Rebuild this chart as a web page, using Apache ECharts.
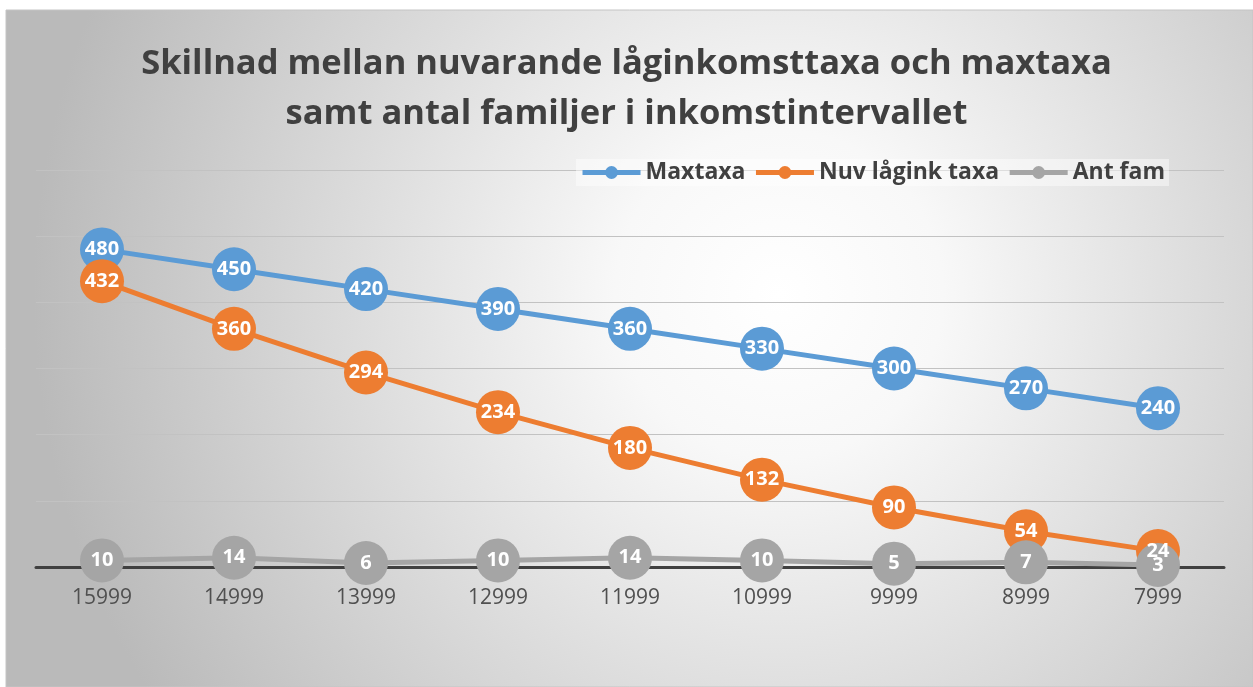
<!DOCTYPE html>
<html>
<head>
<meta charset="utf-8">
<script src="https://cdn.jsdelivr.net/npm/echarts@6/dist/echarts.min.js"></script>
<style>
  html, body { margin: 0; padding: 0; background: #ffffff; }
  #chart { width: 1253px; height: 687px; }
</style>
</head>
<body>
<div id="chart"></div>
<script>
  // data
  const incomeLevels = ['15999', '14999', '13999', '12999', '11999', '10999', '9999', '8999', '7999'];
  const maxtaxa = [480, 450, 420, 390, 360, 330, 300, 270, 240];
  const nuvLagink = [432, 360, 294, 234, 180, 132, 90, 54, 24];
  const antFam = [10, 14, 6, 10, 14, 10, 5, 7, 3];

  const seriesNames = ['Maxtaxa', 'Nuv lågink taxa', 'Ant fam'];
  const seriesColors = ['#5b9bd5', '#ed7d31', '#a5a5a5'];

  const fontFamily = '"Open Sans", "Noto Sans", sans-serif';

  function lineSeries(name, data, color) {
    return {
      name: name,
      type: 'line',
      data: data,
      symbol: 'circle',
      symbolSize: 44,
      lineStyle: { width: 5, color: color },
      itemStyle: { color: color },
      label: {
        show: true,
        position: 'inside',
        color: '#ffffff',
        fontWeight: 'bold',
        fontSize: 20,
        fontFamily: fontFamily
      },
      emphasis: { disabled: true },
      animation: false
    };
  }

  const chart = echarts.init(document.getElementById('chart'));
  chart.setOption({
    backgroundColor: '#ffffff',
    graphic: [{
      type: 'rect',
      z: -10,
      silent: true,
      shape: { x: 6, y: 10, width: 1247, height: 677 },
      style: {
        fill: new echarts.graphic.RadialGradient(0.62, 0.42, 1.1, [
          { offset: 0, color: '#ffffff' },
          { offset: 0.22, color: '#f8f8f8' },
          { offset: 1, color: '#bababa' }
        ]),
        stroke: '#c4c4c4',
        lineWidth: 1
      }
    }],
    title: {
      text: 'Skillnad mellan nuvarande låginkomsttaxa och maxtaxa\nsamt antal familjer i inkomstintervallet',
      left: 'center',
      top: 34,
      textStyle: {
        color: '#404040',
        fontSize: 34.5,
        fontWeight: 'bold',
        fontFamily: fontFamily,
        lineHeight: 50
      }
    },
    legend: {
      data: seriesNames,
      top: 159,
      right: 84,
      itemWidth: 58,
      itemHeight: 16,
      itemGap: 8,
      padding: [2, 4],
      backgroundColor: 'rgba(255,255,255,0.45)',
      lineStyle: { width: 5 },
      textStyle: {
        color: '#404040',
        fontSize: 23,
        fontWeight: 'bold',
        fontFamily: fontFamily
      }
    },
    grid: { left: 36, right: 29, top: 170, bottom: 120 },
    xAxis: {
      type: 'category',
      data: incomeLevels,
      boundaryGap: true,
      axisLine: { lineStyle: { color: '#404040', width: 3 } },
      axisTick: { show: false },
      axisLabel: {
        color: '#505050',
        fontSize: 21,
        margin: 21,
        fontFamily: fontFamily
      }
    },
    yAxis: {
      type: 'value',
      min: 0,
      max: 600,
      interval: 100,
      axisLabel: { show: false },
      axisLine: { show: false },
      axisTick: { show: false },
      splitLine: { lineStyle: { color: '#c2c2c2', width: 1 } }
    },
    series: [
      lineSeries(seriesNames[0], maxtaxa, seriesColors[0]),
      lineSeries(seriesNames[1], nuvLagink, seriesColors[1]),
      lineSeries(seriesNames[2], antFam, seriesColors[2])
    ]
  });
</script>
</body>
</html>
